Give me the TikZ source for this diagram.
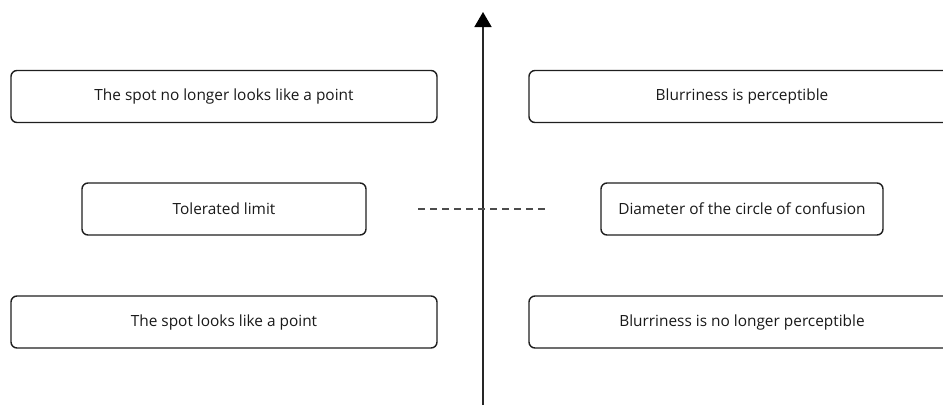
\documentclass[tikz,border=0pt]{standalone}
\usepackage{fontspec}
\setmainfont{Open Sans}
\usetikzlibrary{arrows.meta}
\begin{document}
\begin{tikzpicture}[x=1pt,y=-1pt,
  box/.style={draw=black!88,line width=1.4pt,rounded corners=6pt,minimum height=52pt,inner sep=0pt,font=\fontsize{15.4}{17}\selectfont,text=black!90},
  axis/.style={draw=black!85,line width=1.6pt},
  dashline/.style={draw=black!70,line width=1.2pt,dash pattern=on 7pt off 5pt}]
\useasboundingbox (0,0) rectangle (943,405);
\clip (0,0) rectangle (943,405);
\node[box,minimum width=426pt] (tl) at (224,96.5) {The spot no longer looks like a point};
\node[box,minimum width=426pt] (tr) at (742,96.5) {Blurriness is perceptible};
\node[box,minimum width=284pt] (ml) at (224,209) {Tolerated limit};
\node[box,minimum width=282pt] (mr) at (742,209) {Diameter of the circle of confusion};
\node[box,minimum width=426pt] (bl) at (224,322) {The spot looks like a point};
\node[box,minimum width=426pt] (br) at (742,322) {Blurriness is no longer perceptible};
\coordinate (abot) at (483,405);
\coordinate (atop) at (483,12);
\draw[axis,-{Triangle[length=15pt,width=17pt,fill=black,color=black]}] (abot) -- (atop);
\coordinate (d1) at (418,209);
\coordinate (d2) at (548,209);
\draw[dashline] (d1) -- (d2);
\end{tikzpicture}
\end{document}
